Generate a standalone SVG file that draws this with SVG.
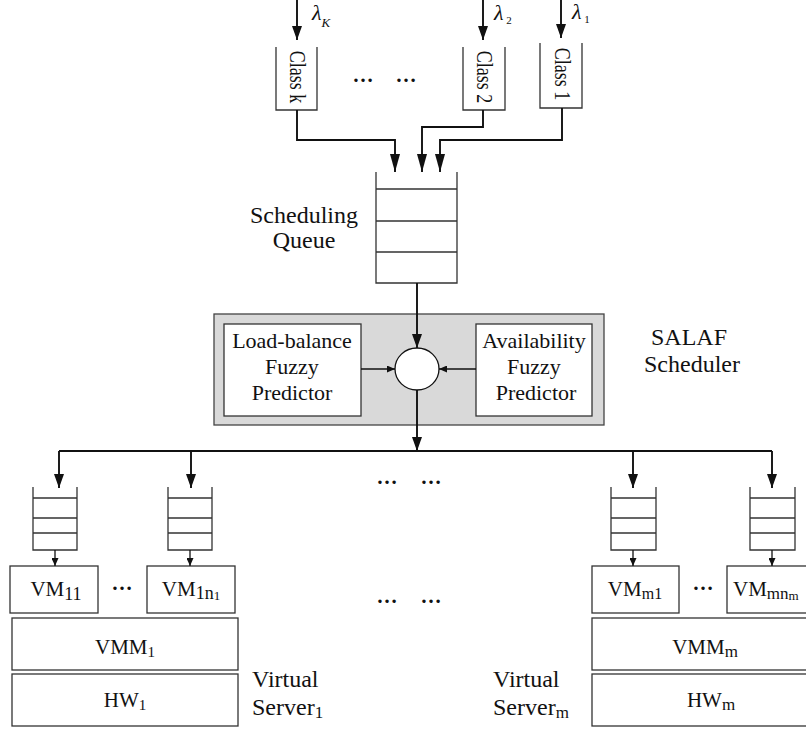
<svg xmlns="http://www.w3.org/2000/svg" width="806" height="733" viewBox="0 0 806 733">
<style>
text{font-family:"Liberation Serif","Times New Roman",serif;fill:#111}
.box{fill:#fff;stroke:#333;stroke-width:1.3}
.q{fill:none;stroke:#333;stroke-width:1.3}
.c{fill:none;stroke:#111;stroke-width:1.9}
.t{fill:none;stroke:#111;stroke-width:1.3}
.lbl{font-size:24px}
.in{font-size:22px}
.vm{font-size:21px}
.dots{font-size:21px;font-weight:bold}
</style>
<defs>
<marker id="ab" viewBox="0 0 18 10" refX="18" refY="5" markerWidth="18" markerHeight="10" markerUnits="userSpaceOnUse" orient="auto"><path d="M0,0 L18,5 L0,10 z" fill="#111"/></marker>
<marker id="am" viewBox="0 0 14 10" refX="14" refY="5" markerWidth="14" markerHeight="10" markerUnits="userSpaceOnUse" orient="auto"><path d="M0,0 L14,5 L0,10 z" fill="#111"/></marker>
<marker id="as" viewBox="0 0 8 7" refX="8" refY="3.5" markerWidth="8" markerHeight="7" markerUnits="userSpaceOnUse" orient="auto"><path d="M0,0 L8,3.5 L0,7 z" fill="#111"/></marker>
</defs>

<g id="lambdas">
<text x="312" y="20" font-size="22" font-style="italic">λ<tspan dy="7" font-size="13">K</tspan></text>
<text x="494" y="20" font-size="22" font-style="italic">λ<tspan dy="4" font-size="11" font-style="normal"> 2</tspan></text>
<text x="572" y="19" font-size="22" font-style="italic">λ<tspan dy="4" font-size="11" font-style="normal"> 1</tspan></text>
</g>

<g id="class-k">
<path class="q" d="M276,47 V110 H317 V47"/>
<text transform="translate(290,77) rotate(90) scale(1,1.3)" font-size="18" text-anchor="middle">Class k</text>
</g>
<g id="class-2">
<path class="q" d="M463,47 V110 H505 V47"/>
<text transform="translate(477,77) rotate(90) scale(1,1.3)" font-size="18" text-anchor="middle">Class 2</text>
</g>
<g id="class-1">
<path class="q" d="M540,43 V108 H582 V43"/>
<text transform="translate(555,74) rotate(90) scale(1,1.3)" font-size="18" text-anchor="middle">Class 1</text>
</g>
<text class="dots" x="363" y="82" text-anchor="middle">…</text>
<text class="dots" x="406" y="82" text-anchor="middle">…</text>

<g id="scheduling-queue">
<path class="q" d="M376,172 V283 H457 V172 M376,189 H457 M376,221 H457 M376,252 H457"/>
<text class="lbl" x="304" y="223" text-anchor="middle">Scheduling</text>
<text class="lbl" x="304" y="248" text-anchor="middle">Queue</text>
</g>

<g id="salaf-scheduler">
<rect x="214" y="314" width="390" height="111" fill="#d9d9d9" stroke="#444" stroke-width="1.3"/>
<text class="lbl" x="689" y="345" text-anchor="middle">SALAF</text>
<text class="lbl" x="692" y="372" text-anchor="middle">Scheduler</text>
</g>
<g id="load-balance-predictor">
<rect class="box" x="224" y="324" width="137" height="92"/>
<text class="in" x="292" y="348" text-anchor="middle">Load-balance</text>
<text class="in" x="292" y="374" text-anchor="middle">Fuzzy</text>
<text class="in" x="292" y="400" text-anchor="middle">Predictor</text>
</g>
<g id="availability-predictor">
<rect class="box" x="476" y="324" width="116" height="92"/>
<text class="in" x="534" y="348" text-anchor="middle">Availability</text>
<text class="in" x="534" y="374" text-anchor="middle">Fuzzy</text>
<text class="in" x="536" y="400" text-anchor="middle">Predictor</text>
</g>
<g id="combiner">
<ellipse cx="417" cy="369" rx="22" ry="21" fill="#fff" stroke="#111" stroke-width="1.3"/>
</g>

<text class="dots" x="387" y="484" text-anchor="middle">…</text>
<text class="dots" x="431" y="484" text-anchor="middle">…</text>
<text class="dots" x="387" y="603" text-anchor="middle">…</text>
<text class="dots" x="431" y="603" text-anchor="middle">…</text>

<g id="queue-11"><path class="q" d="M33,487 V550 H77 V487 M33,498 H77 M33,518 H77 M33,533 H77"/></g>
<g id="queue-1n"><path class="q" d="M168,487 V550 H212 V487 M168,498 H212 M168,518 H212 M168,533 H212"/></g>
<g id="queue-m1"><path class="q" d="M611,487 V550 H656 V487 M611,498 H656 M611,518 H656 M611,533 H656"/></g>
<g id="queue-mn"><path class="q" d="M750,487 V550 H795 V487 M750,498 H795 M750,518 H795 M750,533 H795"/></g>

<g id="vm-11">
<rect class="box" x="10" y="566" width="88" height="47"/>
<text class="vm" x="56" y="596" text-anchor="middle">VM<tspan dy="4" font-size="18">11</tspan></text>
</g>
<text class="dots" x="122" y="590" text-anchor="middle">…</text>
<g id="vm-1n">
<rect class="box" x="147" y="566" width="88" height="47"/>
<text class="vm" x="191" y="596" text-anchor="middle">VM<tspan dy="3" font-size="18">1n</tspan><tspan dy="1" font-size="13">1</tspan></text>
</g>
<g id="vmm-1">
<rect class="box" x="12" y="618" width="226" height="52"/>
<text class="vm" x="125" y="654" text-anchor="middle">VMM<tspan dy="3" font-size="15">1</tspan></text>
</g>
<g id="hw-1">
<rect class="box" x="12" y="674" width="226" height="52"/>
<text class="vm" x="125" y="707" text-anchor="middle">HW<tspan dy="3" font-size="15">1</tspan></text>
</g>
<g id="server-1-label">
<text class="lbl" x="252" y="687">Virtual</text>
<text class="lbl" x="252" y="715">Server<tspan dy="3" font-size="17">1</tspan></text>
</g>

<g id="vm-m1">
<rect class="box" x="592" y="566" width="87" height="47"/>
<text class="vm" x="635" y="596" text-anchor="middle">VM<tspan dy="3" font-size="16">m1</tspan></text>
</g>
<text class="dots" x="703" y="590" text-anchor="middle">…</text>
<g id="vm-mn">
<rect class="box" x="727" y="566" width="85" height="47"/>
<text class="vm" x="733" y="596">VM<tspan dy="3" font-size="17">mn</tspan><tspan dy="1" font-size="13">m</tspan></text>
</g>
<g id="vmm-m">
<rect class="box" x="592" y="618" width="220" height="52"/>
<text class="vm" x="705" y="654" text-anchor="middle">VMM<tspan dy="3" font-size="17">m</tspan></text>
</g>
<g id="hw-m">
<rect class="box" x="592" y="674" width="220" height="52"/>
<text class="vm" x="711" y="707" text-anchor="middle">HW<tspan dy="3" font-size="17">m</tspan></text>
</g>
<g id="server-m-label">
<text class="lbl" x="493" y="687">Virtual</text>
<text class="lbl" x="493" y="715">Server<tspan dy="3" font-size="17">m</tspan></text>
</g>

<g id="connectors">
<path class="c" d="M297,0 V40" marker-end="url(#am)"/>
<path class="c" d="M483,0 V40" marker-end="url(#am)"/>
<path class="c" d="M561,0 V38" marker-end="url(#am)"/>
<path class="c" d="M297,110 V140 H395 V172" marker-end="url(#ab)"/>
<path class="c" d="M483,110 V127 H422 V172" marker-end="url(#ab)"/>
<path class="c" d="M562,108 V140 H440 V172" marker-end="url(#ab)"/>
<path class="c" d="M417,283 V348" marker-end="url(#am)"/>
<path class="t" d="M361,369 H395" marker-end="url(#as)"/>
<path class="t" d="M476,369 H439" marker-end="url(#as)"/>
<path class="c" d="M417,390 V451" marker-end="url(#am)"/>
<path class="c" d="M59,451 H772"/>
<path class="c" d="M59,451 V488" marker-end="url(#am)"/>
<path class="c" d="M191,451 V488" marker-end="url(#am)"/>
<path class="c" d="M633,451 V488" marker-end="url(#am)"/>
<path class="c" d="M772,451 V488" marker-end="url(#am)"/>
<path class="t" d="M55,550 V566" marker-end="url(#as)"/>
<path class="t" d="M190,550 V566" marker-end="url(#as)"/>
<path class="t" d="M633,550 V566" marker-end="url(#as)"/>
<path class="t" d="M772,550 V566" marker-end="url(#as)"/>
</g>
</svg>
